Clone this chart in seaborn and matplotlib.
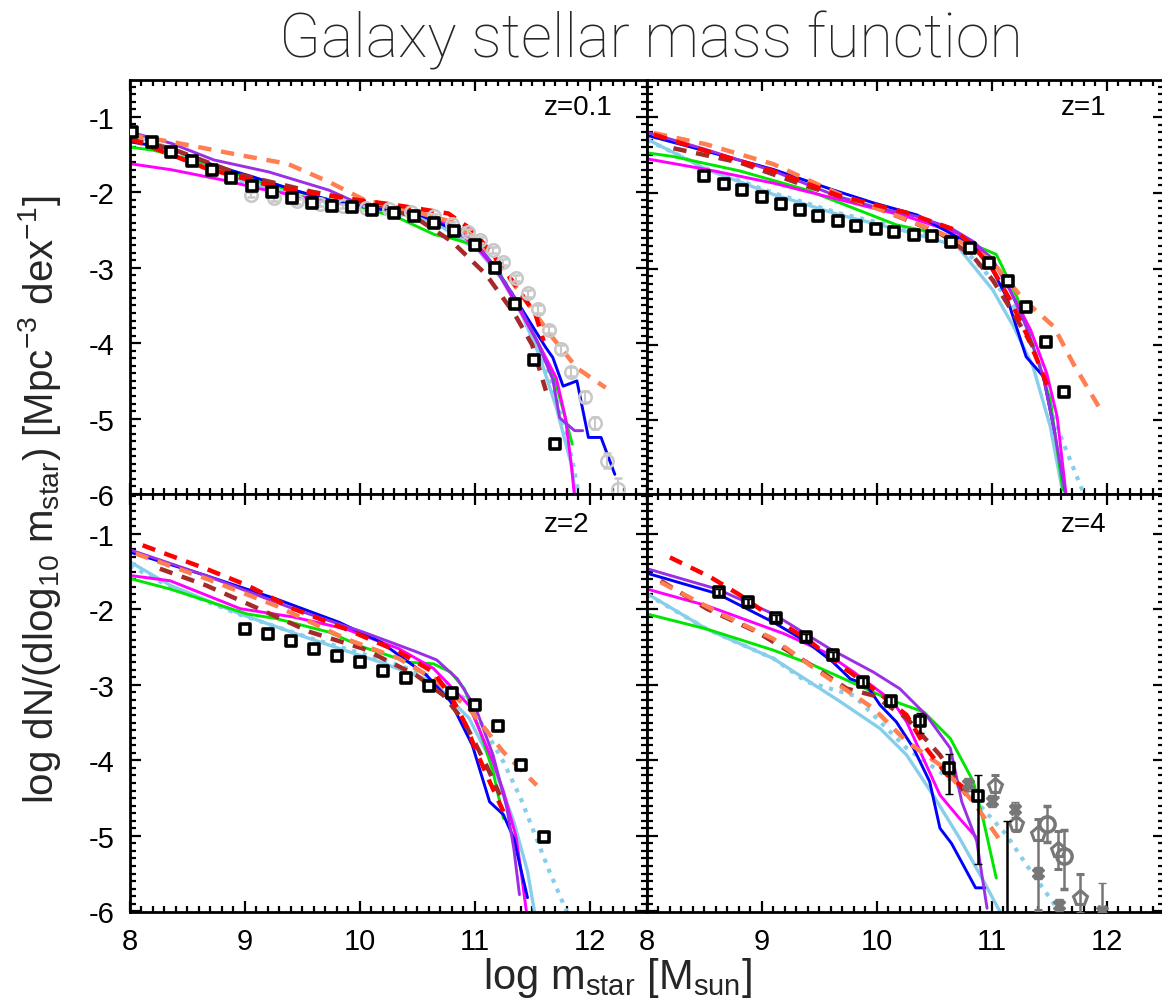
import numpy as np
import pandas as pd
import matplotlib
matplotlib.use("Agg")
import matplotlib.pyplot as plt
import seaborn as sns
from matplotlib.ticker import MultipleLocator

sns.set_theme(style="white")
plt.rcParams['font.family'] = ['Liberation Sans', 'DejaVu Sans']
plt.rcParams['mathtext.fontset'] = 'custom'
plt.rcParams['mathtext.rm'] = 'Liberation Sans'
plt.rcParams['mathtext.it'] = 'Liberation Sans'
plt.rcParams['mathtext.default'] = 'regular'

# ---------------- data ----------------
PANELS = ["z=0.1", "z=1", "z=2", "z=4"]

# observations (black squares)
Z01_OBS_X = [8.02, 8.19, 8.36, 8.54, 8.71, 8.88, 9.06, 9.24, 9.41, 9.58, 9.76, 9.93,
             10.11, 10.30, 10.47, 10.65, 10.82, 11.00, 11.18, 11.35, 11.52, 11.70]
Z01_OBS_Y = [-1.20, -1.33, -1.46, -1.59, -1.70, -1.81, -1.91, -2.00, -2.07, -2.14, -2.18, -2.20,
             -2.24, -2.28, -2.32, -2.40, -2.51, -2.70, -3.00, -3.48, -4.22, -5.34]
Z1_OBS_X = [8.50, 8.67, 8.83, 9.00, 9.17, 9.33, 9.49, 9.66, 9.82, 9.99, 10.15, 10.32,
            10.48, 10.65, 10.81, 10.98, 11.14, 11.30, 11.47, 11.63]
Z1_OBS_Y = [-1.78, -1.88, -1.96, -2.05, -2.14, -2.22, -2.30, -2.37, -2.43, -2.48, -2.52, -2.55,
            -2.57, -2.64, -2.72, -2.92, -3.16, -3.50, -3.97, -4.62]
Z2_OBS_X = [9.0, 9.2, 9.4, 9.6, 9.8, 10.0, 10.2, 10.4, 10.6, 10.8, 11.0, 11.2, 11.4, 11.6]
Z2_OBS_Y = [-2.26, -2.33, -2.42, -2.52, -2.62, -2.70, -2.81, -2.91, -3.01, -3.11, -3.27, -3.55, -4.06, -5.01]
Z4_OBS_X = [8.63, 8.88, 9.12, 9.38, 9.62, 9.88, 10.12, 10.38, 10.63, 10.88, 11.13]
Z4_OBS_Y = [-1.77, -1.90, -2.11, -2.37, -2.61, -2.96, -3.22, -3.48, -4.10, -4.47, -6.50]
Z4_OBS_ELO = [0.04, 0.04, 0.04, 0.04, 0.04, 0.05, 0.06, 0.16, 0.35, 0.90, 0.0]
Z4_OBS_EHI = [0.04, 0.04, 0.04, 0.04, 0.04, 0.05, 0.06, 0.11, 0.19, 0.28, 1.70]

# z=0.1 second data set (light grey circles)
Z01_GREY_X = [9.05, 9.25, 9.45, 9.65, 9.85, 10.05, 10.25, 10.45, 10.65, 10.80, 10.94, 11.05,
              11.16, 11.25, 11.36, 11.46, 11.55, 11.65, 11.75, 11.84, 11.96, 12.05, 12.15, 12.25]
Z01_GREY_Y = [-2.03, -2.08, -2.12, -2.15, -2.18, -2.21, -2.22, -2.26, -2.32, -2.42, -2.52, -2.63,
              -2.76, -2.92, -3.14, -3.34, -3.55, -3.82, -4.08, -4.38, -4.71, -5.06, -5.56, -5.93]
Z01_GREY_E = [0.03, 0.03, 0.03, 0.03, 0.03, 0.03, 0.03, 0.03, 0.03, 0.03, 0.04, 0.04,
              0.04, 0.04, 0.04, 0.05, 0.05, 0.05, 0.06, 0.06, 0.07, 0.08, 0.10, 0.14]

# z=4 other data sets (grey)
Z4_PENT_X = [11.03, 11.21, 11.40, 11.58, 11.77]
Z4_PENT_Y = [-4.34, -4.85, -4.98, -5.19, -5.82]
Z4_PENT_ELO = [0.14, 0.09, 1.00, 0.25, 0.20]
Z4_PENT_EHI = [0.14, 0.09, 0.20, 0.25, 0.31]
Z4_STAR_X = [10.79, 11.00, 11.20, 11.40, 11.59, 11.96]
Z4_STAR_Y = [-4.32, -4.54, -4.65, -5.49, -5.92, -6.00]
Z4_STAR_ELO = [0.09, 0.08, 0.10, 0.08, 0.08, 0.05]
Z4_STAR_EHI = [0.09, 0.08, 0.10, 0.08, 0.08, 0.38]
Z4_CIRC_X = [11.48, 11.63]
Z4_CIRC_Y = [-4.84, -5.27]
Z4_CIRC_ELO = [0.24, 0.44]
Z4_CIRC_EHI = [0.24, 0.35]

# ---- model curves: (x list, y list) ----
# z = 0.1
Z01_PURPLE = ([8.0, 8.36, 8.73, 9.21, 9.73, 9.95, 10.28, 10.65, 10.80, 11.0, 11.16, 11.35, 11.53, 11.68, 11.74, 11.87, 11.94],
              [-1.20, -1.35, -1.57, -1.73, -1.97, -2.12, -2.21, -2.32, -2.43, -2.65, -2.96, -3.40, -3.93, -4.48, -4.99, -5.16, -5.16])
Z01_BLUE = ([8.0, 8.36, 8.73, 9.06, 9.43, 9.73, 10.10, 10.49, 10.80, 11.0, 11.16, 11.35, 11.53, 11.62, 11.68, 11.77, 11.89, 11.99, 12.10, 12.22],
            [-1.33, -1.42, -1.64, -1.79, -1.97, -2.10, -2.21, -2.28, -2.48, -2.65, -2.96, -3.40, -3.84, -4.06, -4.19, -4.57, -4.50, -5.25, -5.25, -5.74])
Z01_GREEN = ([8.0, 8.2, 8.66, 9.12, 9.58, 10.04, 10.34, 10.65, 10.80, 11.0, 11.18, 11.38, 11.56, 11.71, 11.85],
             [-1.40, -1.44, -1.62, -1.86, -2.04, -2.21, -2.34, -2.56, -2.61, -2.70, -2.98, -3.49, -4.02, -4.55, -5.34])
Z01_MAGENTA = ([8.0, 8.36, 8.82, 9.12, 9.58, 10.19, 10.65, 10.83, 11.01, 11.20, 11.38, 11.56, 11.71, 11.79, 11.84, 11.87],
               [-1.62, -1.70, -1.84, -1.95, -2.08, -2.21, -2.34, -2.50, -2.72, -3.05, -3.53, -4.02, -4.46, -4.99, -5.60, -6.04])
Z01_SKY = ([8.0, 8.36, 8.97, 9.58, 10.19, 10.65, 10.86, 11.04, 11.23, 11.41, 11.56, 11.71, 11.84, 11.88],
           [-1.22, -1.42, -1.84, -2.10, -2.23, -2.39, -2.61, -2.78, -3.14, -3.62, -4.15, -4.85, -5.60, -6.04])
Z01_SKYDOT = ([8.0, 8.36, 8.97, 9.58, 10.19, 10.65, 10.86, 11.04, 11.23, 11.41, 11.57, 11.72, 11.85, 11.91],
              [-1.25, -1.44, -1.85, -2.11, -2.24, -2.38, -2.58, -2.76, -3.10, -3.57, -4.10, -4.80, -5.55, -6.04])
Z01_RED = ([8.0, 8.66, 9.27, 9.88, 10.28, 10.77, 10.98, 11.16, 11.35, 11.53, 11.60],
           [-1.29, -1.68, -1.93, -2.08, -2.16, -2.28, -2.50, -2.83, -3.22, -3.62, -3.97])
Z01_BROWN = ([8.0, 8.36, 8.97, 9.58, 10.19, 10.49, 10.80, 11.10, 11.35, 11.50, 11.62],
             [-1.30, -1.42, -1.77, -1.99, -2.17, -2.34, -2.65, -3.09, -3.62, -4.02, -4.63])
Z01_CORAL = ([8.0, 8.36, 8.97, 9.37, 9.73, 10.04, 10.49, 10.80, 11.04, 11.26, 11.47, 11.68, 11.89, 12.14],
             [-1.24, -1.33, -1.51, -1.62, -1.86, -2.10, -2.26, -2.39, -2.65, -3.05, -3.49, -3.93, -4.33, -4.59])

# z = 1
Z1_PURPLE = ([8.0, 8.52, 9.10, 9.65, 9.97, 10.35, 10.64, 10.84, 11.01, 11.16, 11.30, 11.45, 11.55, 11.64],
             [-1.20, -1.43, -1.71, -2.04, -2.18, -2.31, -2.46, -2.64, -2.88, -3.28, -3.76, -4.42, -5.17, -5.96])
Z1_BLUE = ([8.0, 8.52, 9.10, 9.62, 9.97, 10.35, 10.64, 10.84, 10.99, 11.13, 11.30, 11.45, 11.55],
           [-1.24, -1.45, -1.69, -1.96, -2.13, -2.29, -2.53, -2.70, -2.97, -3.37, -4.16, -4.42, -5.17])
Z1_GREEN = ([8.0, 8.23, 8.81, 9.39, 10.17, 10.70, 11.04, 11.22, 11.39, 11.51, 11.62],
            [-1.47, -1.52, -1.71, -1.96, -2.42, -2.59, -2.81, -3.37, -4.16, -4.73, -5.92])
Z1_MAGENTA = ([8.0, 8.52, 9.10, 9.68, 10.26, 10.70, 10.99, 11.16, 11.34, 11.48, 11.57, 11.65],
              [-1.55, -1.69, -1.87, -2.09, -2.31, -2.53, -2.84, -3.28, -3.81, -4.38, -4.95, -6.01])
Z1_SKY = ([8.0, 8.52, 9.10, 9.68, 10.26, 10.70, 11.01, 11.19, 11.36, 11.51, 11.61],
          [-1.29, -1.69, -2.02, -2.29, -2.51, -2.70, -3.28, -3.76, -4.29, -5.08, -5.88])
Z1_SKYDOT = ([8.0, 8.52, 9.10, 9.68, 10.26, 10.70, 11.01, 11.28, 11.42, 11.59, 11.80],
             [-1.30, -1.68, -2.00, -2.27, -2.48, -2.64, -3.15, -3.67, -4.20, -5.17, -5.96])
Z1_RED = ([8.06, 8.52, 9.10, 9.68, 10.26, 10.67, 10.84, 11.01, 11.16, 11.30, 11.42, 11.50],
          [-1.23, -1.45, -1.71, -2.04, -2.26, -2.48, -2.70, -3.01, -3.41, -3.85, -4.29, -4.60])
Z1_BROWN = ([8.23, 8.81, 9.39, 9.97, 10.55, 10.84, 11.01, 11.19, 11.36],
            [-1.41, -1.60, -1.91, -2.18, -2.53, -2.84, -3.15, -3.59, -4.03])
Z1_CORAL = ([8.06, 8.52, 9.10, 9.68, 10.26, 10.70, 10.99, 11.28, 11.54, 11.71, 11.96],
            [-1.21, -1.36, -1.62, -2.02, -2.35, -2.62, -2.88, -3.41, -3.76, -4.25, -4.89])

# z = 2
Z2_PURPLE = ([8.0, 8.66, 9.42, 10.03, 10.49, 10.67, 10.85, 11.01, 11.16, 11.28, 11.34, 11.39],
             [-1.21, -1.55, -1.99, -2.30, -2.56, -2.67, -2.92, -3.31, -3.93, -4.63, -5.16, -5.78])
Z2_BLUE = ([8.0, 8.66, 9.27, 9.82, 10.18, 10.58, 10.79, 10.98, 11.13, 11.25, 11.34, 11.40, 11.46],
           [-1.24, -1.55, -1.86, -2.17, -2.43, -2.87, -3.22, -3.80, -4.55, -4.72, -5.03, -5.43, -5.82])
Z2_GREEN = ([8.0, 8.35, 9.02, 9.27, 9.73, 10.03, 10.43, 10.64, 10.79, 10.91, 11.04, 11.16, 11.25],
            [-1.59, -1.73, -2.06, -2.12, -2.30, -2.50, -2.70, -2.72, -2.83, -3.05, -3.58, -4.15, -4.77])
Z2_MAGENTA = ([8.0, 8.35, 8.96, 9.42, 9.88, 10.34, 10.64, 10.95, 11.16, 11.25, 11.36, 11.40, 11.45],
              [-1.55, -1.62, -1.99, -2.10, -2.26, -2.52, -2.78, -3.27, -4.02, -4.41, -5.01, -5.43, -6.00])
Z2_SKY = ([8.0, 8.35, 8.96, 9.57, 10.18, 10.64, 10.95, 11.16, 11.34, 11.46, 11.52],
          [-1.37, -1.68, -2.06, -2.39, -2.70, -2.96, -3.44, -4.06, -4.81, -5.47, -6.00])
Z2_SKYDOT = ([8.0, 8.35, 8.96, 9.57, 10.18, 10.64, 10.95, 11.25, 11.40, 11.65, 11.80],
             [-1.42, -1.70, -2.07, -2.38, -2.66, -2.90, -3.22, -4.02, -4.50, -5.47, -6.00])
Z2_RED = ([8.11, 8.66, 9.02, 9.42, 9.88, 10.34, 10.64, 10.79, 10.91, 11.04, 11.13, 11.25],
          [-1.15, -1.46, -1.68, -1.99, -2.26, -2.56, -2.83, -3.14, -3.49, -3.97, -4.28, -4.68])
Z2_BROWN = ([8.26, 8.66, 9.12, 9.57, 10.03, 10.49, 10.73, 10.91, 11.10, 11.22],
            [-1.46, -1.68, -1.99, -2.30, -2.52, -2.87, -3.14, -3.49, -4.06, -4.46])
Z2_CORAL = ([8.05, 8.66, 9.27, 9.88, 10.34, 10.64, 10.95, 11.25, 11.54],
            [-1.26, -1.59, -1.95, -2.39, -2.65, -2.92, -3.31, -3.89, -4.33])

# z = 4
Z4_PURPLE = ([8.0, 8.61, 9.10, 9.59, 9.97, 10.20, 10.43, 10.64, 10.74, 10.87, 10.91, 10.96],
             [-1.46, -1.73, -2.06, -2.52, -2.83, -3.05, -3.40, -3.84, -4.55, -5.07, -5.47, -5.96])
Z4_BLUE = ([8.0, 8.61, 9.10, 9.39, 9.62, 9.77, 9.91, 10.03, 10.17, 10.32, 10.46, 10.55, 10.65, 10.75, 10.86, 10.94],
           [-1.52, -1.79, -2.17, -2.43, -2.70, -2.92, -3.00, -3.27, -3.49, -3.84, -4.28, -4.90, -5.10, -5.38, -5.69, -5.69])
Z4_GREEN = ([8.0, 8.52, 9.10, 9.45, 9.83, 10.12, 10.41, 10.64, 10.84, 10.93, 11.04],
            [-2.06, -2.26, -2.54, -2.74, -3.00, -3.20, -3.36, -3.71, -4.28, -4.81, -5.56])
Z4_MAGENTA = ([8.0, 8.52, 9.19, 9.54, 9.80, 10.14, 10.26, 10.38, 10.55, 10.72, 10.86],
              [-1.73, -1.95, -2.32, -2.56, -2.83, -3.22, -3.49, -3.89, -4.46, -4.77, -5.01])
Z4_SKY = ([8.0, 8.52, 9.10, 9.68, 10.03, 10.26, 10.49, 10.72, 10.93, 11.07],
          [-1.79, -2.26, -2.65, -3.22, -3.58, -3.93, -4.46, -5.03, -5.60, -6.00])
Z4_SKYDOT = ([8.0, 8.52, 9.10, 9.39, 9.80, 10.26, 10.55, 10.84, 11.13, 11.30, 11.57],
             [-1.80, -2.26, -2.65, -2.96, -3.14, -3.84, -4.15, -4.50, -4.99, -5.38, -5.96])
Z4_RED = ([8.20, 8.55, 8.81, 9.10, 9.39, 9.68, 9.97, 10.26, 10.43, 10.61, 10.84],
          [-1.31, -1.57, -1.81, -2.12, -2.39, -2.74, -3.05, -3.40, -3.84, -4.19, -4.46])
Z4_BROWN = ([8.12, 8.52, 8.96, 9.39, 9.74, 9.97, 10.26, 10.55, 10.78],
            [-1.62, -1.99, -2.30, -2.70, -3.05, -3.14, -3.44, -3.93, -4.46])
Z4_CORAL = ([8.12, 8.67, 9.10, 9.54, 9.97, 10.26, 10.55, 10.84, 11.10],
            [-1.64, -2.08, -2.39, -2.87, -3.31, -3.75, -4.06, -4.55, -5.12])

MODELS = {
    "z=0.1": [Z01_SKY, Z01_SKYDOT, Z01_GREEN, Z01_MAGENTA, Z01_BLUE, Z01_PURPLE, Z01_BROWN, Z01_CORAL, Z01_RED],
    "z=1": [Z1_SKY, Z1_SKYDOT, Z1_GREEN, Z1_MAGENTA, Z1_BLUE, Z1_PURPLE, Z1_BROWN, Z1_CORAL, Z1_RED],
    "z=2": [Z2_SKY, Z2_SKYDOT, Z2_GREEN, Z2_MAGENTA, Z2_BLUE, Z2_PURPLE, Z2_BROWN, Z2_CORAL, Z2_RED],
    "z=4": [Z4_SKY, Z4_SKYDOT, Z4_GREEN, Z4_MAGENTA, Z4_BLUE, Z4_PURPLE, Z4_BROWN, Z4_CORAL, Z4_RED],
}
OBS = {"z=0.1": (Z01_OBS_X, Z01_OBS_Y), "z=1": (Z1_OBS_X, Z1_OBS_Y),
       "z=2": (Z2_OBS_X, Z2_OBS_Y), "z=4": (Z4_OBS_X, Z4_OBS_Y)}

# styles (color, linestyle, linewidth) in the same order as model lists
STYLES = [("#87ceeb", "-", 2.4), ("#87ceeb", (0, (1.0, 1.6)), 3.0), ("#00e600", "-", 2.1),
          ("#ff00ff", "-", 2.1), ("#0000ff", "-", 2.1), ("#9a2fe6", "-", 2.1),
          ("#a52a2a", (0, (3.0, 2.2)), 3.2), ("#ff7f50", (0, (3.0, 2.2)), 3.2),
          ("#ff0000", (0, (3.0, 2.2)), 3.2)]

# ---------------- figure ----------------
W, H = 1162, 1003
fig = plt.figure(figsize=(W / 100, H / 100), dpi=100)
xl, pw = 130 / W, 517 / W
rects = {
    "z=0.1": [xl, 1 - 495 / H, pw, 414 / H],
    "z=1": [xl + pw, 1 - 495 / H, pw, 414 / H],
    "z=2": [xl, 1 - 913 / H, pw, 418 / H],
    "z=4": [xl + pw, 1 - 913 / H, pw, 418 / H],
}
ylims = {"z=0.1": (-5.97, -0.51), "z=1": (-5.97, -0.51), "z=2": (-6.01, -0.47), "z=4": (-6.01, -0.47)}

sq_kw = dict(marker="s", s=62, facecolors="white", edgecolors="black", linewidths=2.6, zorder=10)

for name in PANELS:
    ax = fig.add_axes(rects[name])
    for (xs, ys), (c, ls, lw) in zip(MODELS[name], STYLES):
        df = pd.DataFrame({"x": xs, "y": ys})
        sns.lineplot(data=df, x="x", y="y", ax=ax, color=c, linestyle=ls, linewidth=lw,
                     sort=False, estimator=None, legend=False)
    if name == "z=0.1":
        ax.errorbar(Z01_GREY_X, Z01_GREY_Y, yerr=Z01_GREY_E, fmt="o", ms=9, mfc="none",
                    mec="#c8c8c8", mew=1.8, ecolor="#c8c8c8", elinewidth=1.5, capsize=3, zorder=5)
    if name == "z=4":
        ax.errorbar(Z4_PENT_X, Z4_PENT_Y, yerr=[Z4_PENT_ELO, Z4_PENT_EHI], fmt="p", ms=11, mfc="none",
                    mec="#777777", mew=2.2, ecolor="#777777", elinewidth=1.8, capsize=3, zorder=6)
        ax.errorbar(Z4_STAR_X, Z4_STAR_Y, yerr=[Z4_STAR_ELO, Z4_STAR_EHI], fmt="X", ms=8,
                    mfc="#777777", mec="#777777", ecolor="#777777", elinewidth=1.8, capsize=3, zorder=6)
        ax.errorbar(Z4_CIRC_X, Z4_CIRC_Y, yerr=[Z4_CIRC_ELO, Z4_CIRC_EHI], fmt="o", ms=11, mfc="none",
                    mec="#777777", mew=2.5, ecolor="#777777", elinewidth=1.8, capsize=3, zorder=6)
        ax.errorbar(Z4_OBS_X, Z4_OBS_Y, yerr=[Z4_OBS_ELO, Z4_OBS_EHI], fmt="none",
                    ecolor="black", elinewidth=1.8, capsize=3, zorder=11)
    ox, oy = OBS[name]
    sns.scatterplot(x=ox, y=oy, ax=ax, legend=False, **sq_kw)

    ax.set_xlim(8, 12.5)
    ax.set_ylim(*ylims[name])
    ax.xaxis.set_major_locator(MultipleLocator(1))
    ax.xaxis.set_minor_locator(MultipleLocator(0.1))
    ax.yaxis.set_major_locator(MultipleLocator(1))
    ax.yaxis.set_minor_locator(MultipleLocator(0.1))
    ax.tick_params(which="both", direction="in", top=True, right=True, bottom=True, left=True,
                   width=1.6, colors="black", labelsize=21)
    ax.tick_params(which="major", length=8, pad=11)
    ax.tick_params(which="minor", length=4)
    for sp in ax.spines.values():
        sp.set_linewidth(2.0)
        sp.set_color("black")
    ax.set_xlabel("")
    ax.set_ylabel("")
    if name in ("z=0.1", "z=2"):
        ax.set_yticks([-1, -2, -3, -4, -5, -6])
        ax.set_yticklabels(["-1", "-2", "-3", "-4", "-5", "-6"])
    else:
        ax.tick_params(labelleft=False)
    if name in ("z=2", "z=4"):
        ax.set_xticks([8, 9, 10, 11, 12])
        ax.set_xticklabels(["8", "9", "10", "11", "12"])
    else:
        ax.tick_params(labelbottom=False)
    ax.text(11.6, -0.87, name, fontsize=20, ha="left", va="center", color="black")
    ax.set_facecolor("white")

fig.text(651 / W, 1 - 40 / H, "Galaxy stellar mass function", ha="center", va="center",
         fontsize=44, family=["Roboto", "Liberation Sans"], fontweight="light")
fig.text(617 / W, 1 - 978 / H, r"log m$_{star}$ [M$_{sun}$]", ha="center", va="center", fontsize=30)
fig.text(40 / W, 1 - 500 / H, r"log dN/(dlog$_{10}$ m$_{star}$) [Mpc$^{-3}$ dex$^{-1}$]",
         ha="center", va="center", rotation=90, fontsize=29)

fig.savefig("out.png", dpi=100)
